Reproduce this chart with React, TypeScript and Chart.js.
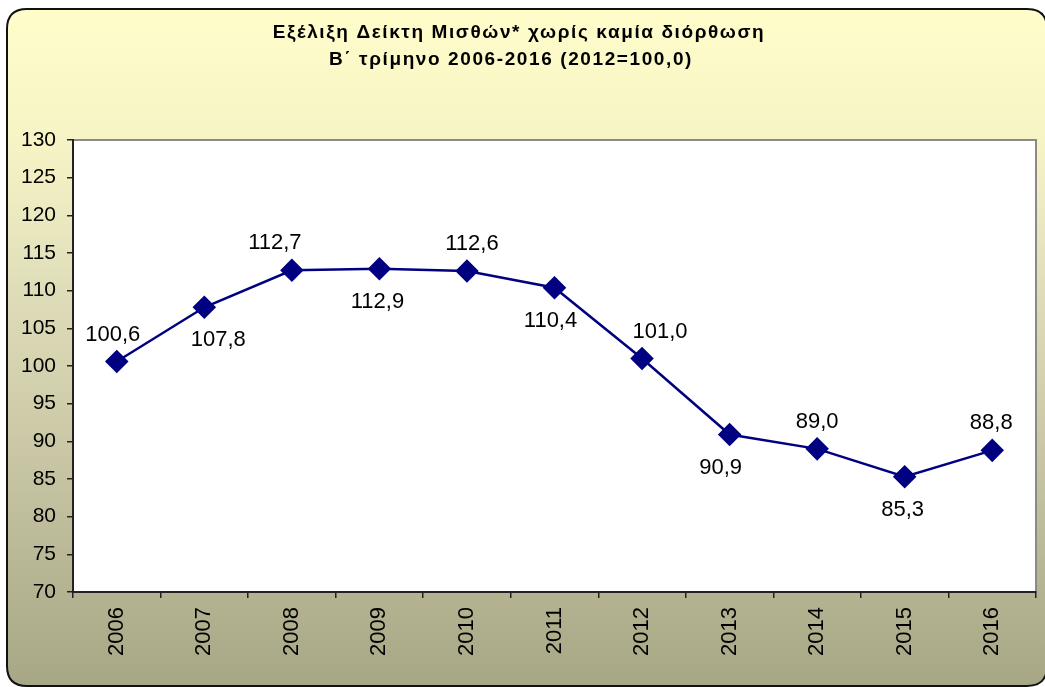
import React, { useEffect, useRef } from "react";
import { Chart, registerables } from "chart.js";

Chart.register(...registerables);

const years = ["2006", "2007", "2008", "2009", "2010", "2011", "2012", "2013", "2014", "2015", "2016"];
const wageIndex = [100.6, 107.8, 112.7, 112.9, 112.6, 110.4, 101.0, 90.9, 89.0, 85.3, 88.8];
const labelSide = ["above", "below", "above", "below", "above", "below", "above", "below", "above", "below", "above"];
const labelShiftX = [-4, 14, -17, -2, 5, -4, 18, -9, 0, -2, -1];
const titleLines = ["Εξέλιξη Δείκτη Μισθών* χωρίς καμία διόρθωση", "Β΄ τρίμηνο 2006-2016 (2012=100,0)"];
const yMin = 70;
const yMax = 130;
const yStep = 5;

const FONT = "'Liberation Sans', Arial, sans-serif";

const framePlugin = {
  id: "frame",
  beforeDraw(chart: any) {
    const ctx = chart.ctx;
    const W = chart.width;
    const H = chart.height;
    ctx.save();
    ctx.fillStyle = "#ffffff";
    ctx.fillRect(0, 0, W, H);
    const x0 = 7, y0 = 9, x1 = W + 2, y1 = H - 1, r = 20;
    const g = ctx.createLinearGradient(0, y0, 0, y1);
    g.addColorStop(0, "#FFFDCA");
    g.addColorStop(0.2, "#F6F4C5");
    g.addColorStop(0.43, "#DEDCB8");
    g.addColorStop(0.66, "#C8C6A4");
    g.addColorStop(1, "#A7A685");
    ctx.beginPath();
    ctx.moveTo(x0 + r, y0);
    ctx.lineTo(x1 - r, y0);
    ctx.quadraticCurveTo(x1, y0, x1, y0 + r);
    ctx.lineTo(x1, y1 - r);
    ctx.quadraticCurveTo(x1, y1, x1 - r, y1);
    ctx.lineTo(x0 + r, y1);
    ctx.quadraticCurveTo(x0, y1, x0, y1 - r);
    ctx.lineTo(x0, y0 + r);
    ctx.quadraticCurveTo(x0, y0, x0 + r, y0);
    ctx.closePath();
    ctx.fillStyle = g;
    ctx.fill();
    ctx.lineWidth = 2;
    ctx.strokeStyle = "#111111";
    ctx.stroke();

    const a = chart.chartArea;
    ctx.fillStyle = "#ffffff";
    ctx.fillRect(a.left, a.top, a.right - a.left, a.bottom - a.top);
    ctx.lineWidth = 2;
    ctx.strokeStyle = "#8a8a8a";
    ctx.strokeRect(a.left, a.top, a.right - a.left, a.bottom - a.top);

    ctx.fillStyle = "#000000";
    ctx.font = "bold 19px " + FONT;
    ctx.textAlign = "center";
    ctx.textBaseline = "middle";
    try {
      (ctx as any).letterSpacing = "1.6px";
    } catch (e) {}
    ctx.fillText(titleLines[0], 519, 33);
    ctx.fillText(titleLines[1], 511, 60);
    try {
      (ctx as any).letterSpacing = "0px";
    } catch (e) {}
    ctx.restore();
  },
};

const labelPlugin = {
  id: "pointLabels",
  afterDatasetsDraw(chart: any) {
    const ctx = chart.ctx;
    const meta = chart.getDatasetMeta(0);
    ctx.save();
    ctx.fillStyle = "#000000";
    ctx.font = "22px " + FONT;
    ctx.textAlign = "center";
    ctx.textBaseline = "middle";
    meta.data.forEach((pt: any, i: number) => {
      const txt = wageIndex[i].toFixed(1).replace(".", ",");
      const dy = labelSide[i] === "above" ? -27 : 33;
      ctx.fillText(txt, pt.x + labelShiftX[i], pt.y + dy);
    });
    ctx.restore();
  },
};

export default function App() {
  const ref = useRef<HTMLCanvasElement | null>(null);
  useEffect(() => {
    document.body.style.margin = "0";
    document.body.style.overflow = "hidden";
    const canvas = ref.current!;
    const chart = new Chart(canvas, {
      type: "line",
      data: {
        labels: years,
        datasets: [
          {
            data: wageIndex,
            borderColor: "#000080",
            backgroundColor: "#000080",
            borderWidth: 2.5,
            pointStyle: "rectRot",
            pointRadius: 10,
            pointHoverRadius: 10,
            pointBackgroundColor: "#000080",
            pointBorderColor: "#000080",
            tension: 0,
            clip: false,
          },
        ],
      },
      options: {
        responsive: false,
        animation: false,
        events: [],
        layout: { autoPadding: false, padding: { left: 0, top: 140, right: 9, bottom: 0 } },
        plugins: {
          legend: { display: false },
          title: { display: false },
          tooltip: { enabled: false },
        },
        scales: {
          x: {
            type: "category",
            offset: true,
            grid: {
              offset: true,
              drawOnChartArea: false,
              drawTicks: true,
              tickLength: 6,
              color: "#222222",
              lineWidth: 1.5,
            },
            border: { display: true, color: "#222222", width: 2 },
            ticks: {
              color: "#000000",
              font: { family: FONT, size: 22 },
              maxRotation: 90,
              minRotation: 90,
              padding: 9,
              autoSkip: false,
            },
            afterFit(scale: any) {
              scale.height = 95;
              scale.paddingLeft = 0;
              scale.paddingRight = 0;
            },
          },
          y: {
            min: yMin,
            max: yMax,
            grid: {
              drawOnChartArea: false,
              drawTicks: true,
              tickLength: 6,
              color: "#222222",
              lineWidth: 1.5,
            },
            border: { display: true, color: "#222222", width: 2 },
            ticks: {
              stepSize: yStep,
              color: "#000000",
              font: { family: FONT, size: 21 },
              padding: 11,
            },
            afterFit(scale: any) {
              scale.width = 73;
              scale.paddingTop = 0;
              scale.paddingBottom = 0;
            },
          },
        },
      },
      plugins: [framePlugin, labelPlugin],
    } as any);
    return () => chart.destroy();
  }, []);
  return (
    <canvas
      ref={ref}
      width={1045}
      height={687}
      style={{ display: "block", width: "1045px", height: "687px" }}
    />
  );
}
